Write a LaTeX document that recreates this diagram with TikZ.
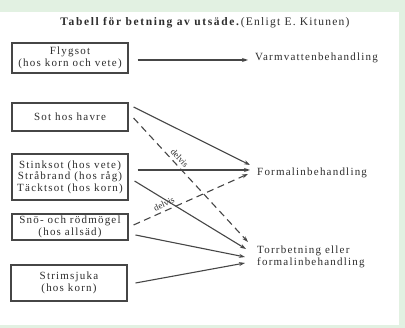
\documentclass[tikz,border=0pt]{standalone}
\usepackage{fontspec}
\setmainfont{Liberation Serif}[LetterSpace=11]
\newfontfamily\titlebf{Liberation Serif}[LetterSpace=14,BoldFont={Liberation Serif Bold}]
\newfontfamily\smallfont{Liberation Serif}
\usetikzlibrary{arrows.meta,calc}
\definecolor{bggreen}{RGB}{226,241,226}
\definecolor{ink}{RGB}{45,45,45}
\definecolor{linec}{RGB}{70,70,70}
\tikzset{
  box/.style={draw=linec, line width=1.1pt, minimum width=116pt, inner sep=0pt, align=center, text=ink, font=\fontsize{11}{11.5}\selectfont},
  target/.style={anchor=west, inner sep=0pt, align=left, text=ink, font=\fontsize{11}{11.5}\selectfont},
  conn/.style={draw=linec, line width=1.1pt, -{Stealth[length=6pt,width=4pt]}},
  dconn/.style={conn, dash pattern=on 7pt off 4.5pt},
  partial/.style={sloped, above, inner sep=3pt, text=ink, font=\smallfont\fontsize{9}{9}\selectfont}
}
\begin{document}
\begin{tikzpicture}[x=1pt, y=-1pt]
\useasboundingbox (0,0) rectangle (405,328);
\fill[bggreen] (0,0) rectangle (405,328);
\fill[white] (0,12) rectangle (399,325);

\node[text=ink, font=\fontsize{11.5}{12}\selectfont] (title) at (205,23)
  {{\titlebf\bfseries Tabell för betning av utsäde.}\,(Enligt E. Kitunen)};

\node[box, minimum height=30pt] (b1) at (70,58) {Flygsot\\(hos korn och vete)};
\node[box, minimum height=28pt] (b2) at (70,117) {Sot hos havre};
\node[box, minimum height=46pt] (b3) at (70,177) {Stinksot (hos vete)\\Stråbrand (hos råg)\\Täcktsot (hos korn)};
\node[box, minimum height=26pt] (b4) at (70,227) {Snö- och rödmögel\\(hos allsäd)};
\node[box, minimum height=36pt] (b5) at (69,283) {Strimsjuka\\(hos korn)};

\node[target] (t1) at (255,58) {Varmvattenbehandling};
\node[target] (t2) at (257,173) {Formalinbehandling};
\node[target] (t3) at (257,257) {Torrbetning eller\\formalinbehandling};

\draw[conn] ($(b1.east)+(9,2)$) -- ($(t1.west)+(-7,2)$);
\draw[conn] ($(b2.east)+(5,-10)$) -- ($(t2.west)+(-7,-8)$);
\draw[conn] ($(b3.east)+(9,-7)$) -- ($(t2.west)+(-7,-3)$);
\draw[dconn] ($(b4.east)+(5,-2)$) -- ($(t2.west)+(-9,1)$)
  node[partial, pos=0.29] {delvis};
\draw[dconn] ($(b2.east)+(5,1)$) -- ($(t3.west)+(-9,-15)$)
  node[partial, pos=0.36] {delvis};
\draw[conn] ($(b3.east)+(6,4)$) -- ($(t3.west)+(-11,-8)$);
\draw[conn] ($(b4.east)+(7,8)$) -- ($(t3.west)+(-12,0)$);
\draw[conn] ($(b5.east)+(8,0)$) -- ($(t3.west)+(-12,6)$);
\end{tikzpicture}
\end{document}
